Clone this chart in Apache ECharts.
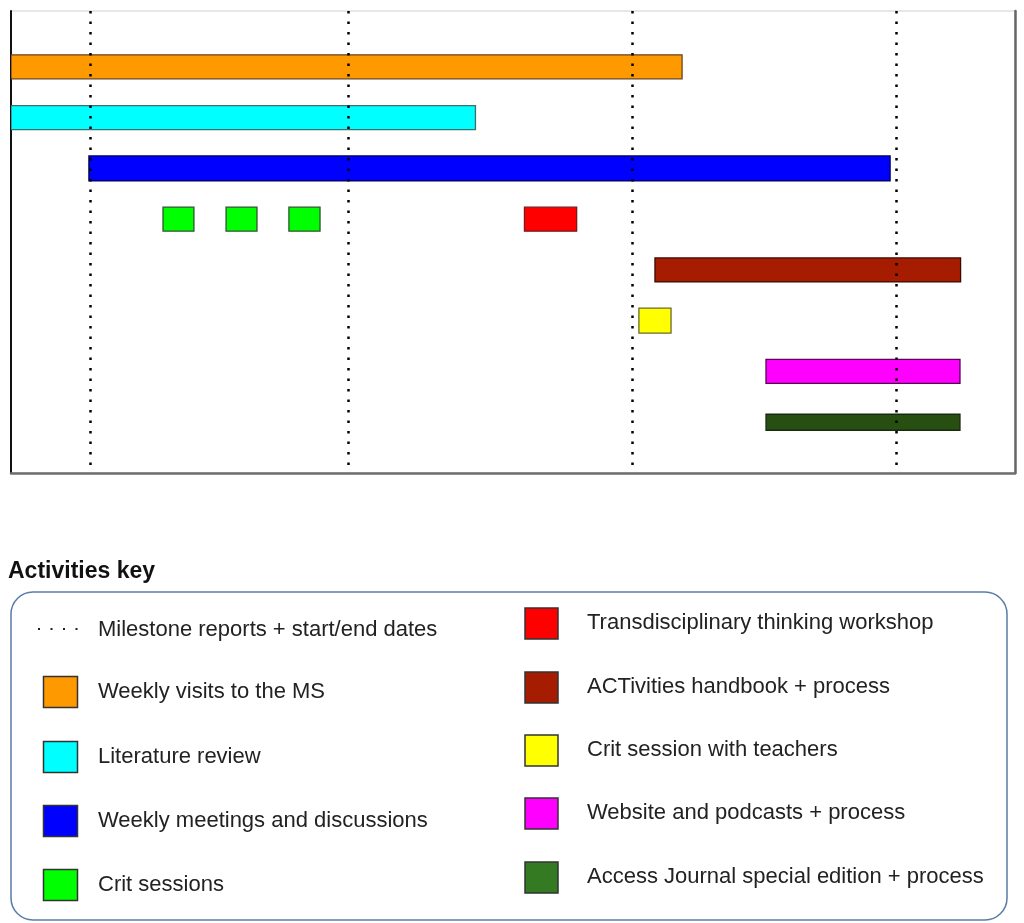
<!DOCTYPE html>
<html>
<head>
<meta charset="utf-8">
<script src="https://cdn.jsdelivr.net/npm/echarts@6/dist/echarts.min.js"></script>
<style>
html,body{margin:0;padding:0;background:#fff;}
#chart{width:1024px;height:923px;}
</style>
</head>
<body>
<div id="chart"></div>
<script>
// ---- data (x unit: weeks from project start) ----
const taskNames = [
  'Weekly visits to the MS',
  'Literature review',
  'Weekly meetings and discussions',
  'Crit sessions',
  'Transdisciplinary thinking workshop',
  'ACTivities handbook + process',
  'Crit session with teachers',
  'Website and podcasts + process',
  'Access Journal special edition + process'
];
const taskRow = [0, 1, 2, 3, 3, 4, 5, 6, 7];
const milestones = [3.93, 16.78, 30.93, 44.07];
const segTask  = [0, 1, 2, 3, 3, 3, 4, 5, 6, 7, 8];
const segStart = [0, 0, 3.88, 7.57, 10.71, 13.84, 25.57, 32.07, 31.27, 37.6, 37.6];
const segEnd   = [33.42, 23.13, 43.78, 9.11, 12.25, 15.39, 28.17, 47.29, 32.87, 47.26, 47.26];
const legendMilestone = 'Milestone reports + start/end dates';
const legendTitle = 'Activities key';

// ---- styles ----
const taskStyle = [
  {fill: '#ff9900', stroke: '#6b4420', h: 24, legend: '#ff9900'},
  {fill: '#00ffff', stroke: '#3a6f6f', h: 24, legend: '#00ffff'},
  {fill: '#0000ff', stroke: '#000055', h: 25, legend: '#0000ff'},
  {fill: '#00ff00', stroke: '#2e552e', h: 24, legend: '#00ff00'},
  {fill: '#ff0000', stroke: '#7a1a1a', h: 24, legend: '#ff0000'},
  {fill: '#a61c00', stroke: '#3a0a00', h: 24, legend: '#a61c00'},
  {fill: '#ffff00', stroke: '#6b6b2a', h: 25, legend: '#ffff00'},
  {fill: '#ff00ff', stroke: '#550055', h: 24, legend: '#ff00ff'},
  {fill: '#284f12', stroke: '#1a2a10', h: 16, legend: '#337a22'}
];

const segData = segTask.map((t, i) => [t, segStart[i], segEnd[i], taskRow[t]]);

const chart = echarts.init(document.getElementById('chart'), null, {renderer: 'canvas'});

// ---- legend built as graphics ----
const FONT = '22px "Liberation Sans", Arial, sans-serif';
const graphics = [];
graphics.push({type: 'text', left: 8, top: 560, style: {text: legendTitle, font: 'bold 23px "Liberation Sans", Arial, sans-serif', fill: '#111'}});
graphics.push({type: 'rect', shape: {x: 11, y: 592, width: 996, height: 328, r: 22}, style: {fill: '#fff', stroke: '#5a7ca6', lineWidth: 1.5}, z: 1});
// milestone entry
graphics.push({type: 'line', shape: {x1: 38, y1: 629, x2: 80, y2: 629}, style: {stroke: '#222', lineWidth: 2, lineDash: [2, 10.5]}, z: 2});
graphics.push({type: 'text', x: 98, y: 630, style: {text: legendMilestone, font: FONT, fill: '#222', verticalAlign: 'middle'}, z: 2});
const leftRows = [692, 757, 821, 885];
const rightRows = [623, 687, 750, 813, 877];
const leftTasks = [0, 1, 2, 3];
const rightTasks = [4, 5, 6, 7, 8];
leftTasks.forEach((t, i) => {
  const cy = leftRows[i];
  graphics.push({type: 'rect', shape: {x: 43.5, y: cy - 15.5, width: 34, height: 31}, style: {fill: taskStyle[t].legend, stroke: '#333', lineWidth: 1.5}, z: 2});
  graphics.push({type: 'text', x: 98, y: cy, style: {text: taskNames[t], font: FONT, fill: '#222', verticalAlign: 'middle'}, z: 2});
});
rightTasks.forEach((t, i) => {
  const cy = rightRows[i];
  graphics.push({type: 'rect', shape: {x: 525, y: cy - 15, width: 33, height: 31}, style: {fill: taskStyle[t].legend, stroke: '#333', lineWidth: 1.5}, z: 2});
  graphics.push({type: 'text', x: 587, y: cy, style: {text: taskNames[t], font: FONT, fill: '#222', verticalAlign: 'middle'}, z: 2});
});

const option = {
  animation: false,
  backgroundColor: '#fff',
  grid: {left: 11, top: 11, width: 1004, height: 462, show: true, borderColor: '#cfcfcf', borderWidth: 1, backgroundColor: '#fff'},
  xAxis: {
    type: 'value', min: 0, max: 50,
    axisLine: {show: true, onZero: false, lineStyle: {color: '#6e6e6e', width: 2.5}},
    axisTick: {show: false}, axisLabel: {show: false}, splitLine: {show: false}
  },
  yAxis: [
    {
      type: 'value', min: -1.1, max: 8, inverse: true,
      axisLine: {show: true, onZero: false, lineStyle: {color: '#111', width: 2}},
      axisTick: {show: false}, axisLabel: {show: false}, splitLine: {show: false}
    },
    {
      type: 'value', min: -1.1, max: 8, inverse: true, position: 'right',
      axisLine: {show: true, onZero: false, lineStyle: {color: '#666', width: 2.5}},
      axisTick: {show: false}, axisLabel: {show: false}, splitLine: {show: false}
    }
  ],
  series: [{
    type: 'custom',
    data: segData,
    encode: {x: [1, 2], y: 3},
    clip: true,
    renderItem: function (params, api) {
      const t = api.value(0);
      const row = api.value(3);
      const p1 = api.coord([api.value(1), row]);
      const p2 = api.coord([api.value(2), row]);
      const st = taskStyle[t];
      return {
        type: 'rect',
        shape: {x: p1[0], y: p1[1] - st.h / 2, width: p2[0] - p1[0], height: st.h},
        style: {fill: st.fill, stroke: st.stroke, lineWidth: 1.3}
      };
    },
    markLine: {
      silent: true, symbol: 'none', label: {show: false},
      lineStyle: {color: '#000', type: [2.5, 8], width: 2.5},
      z: 5,
      data: milestones.map(v => ({xAxis: v}))
    }
  }],
  graphic: graphics
};
chart.setOption(option);
</script>
</body>
</html>
